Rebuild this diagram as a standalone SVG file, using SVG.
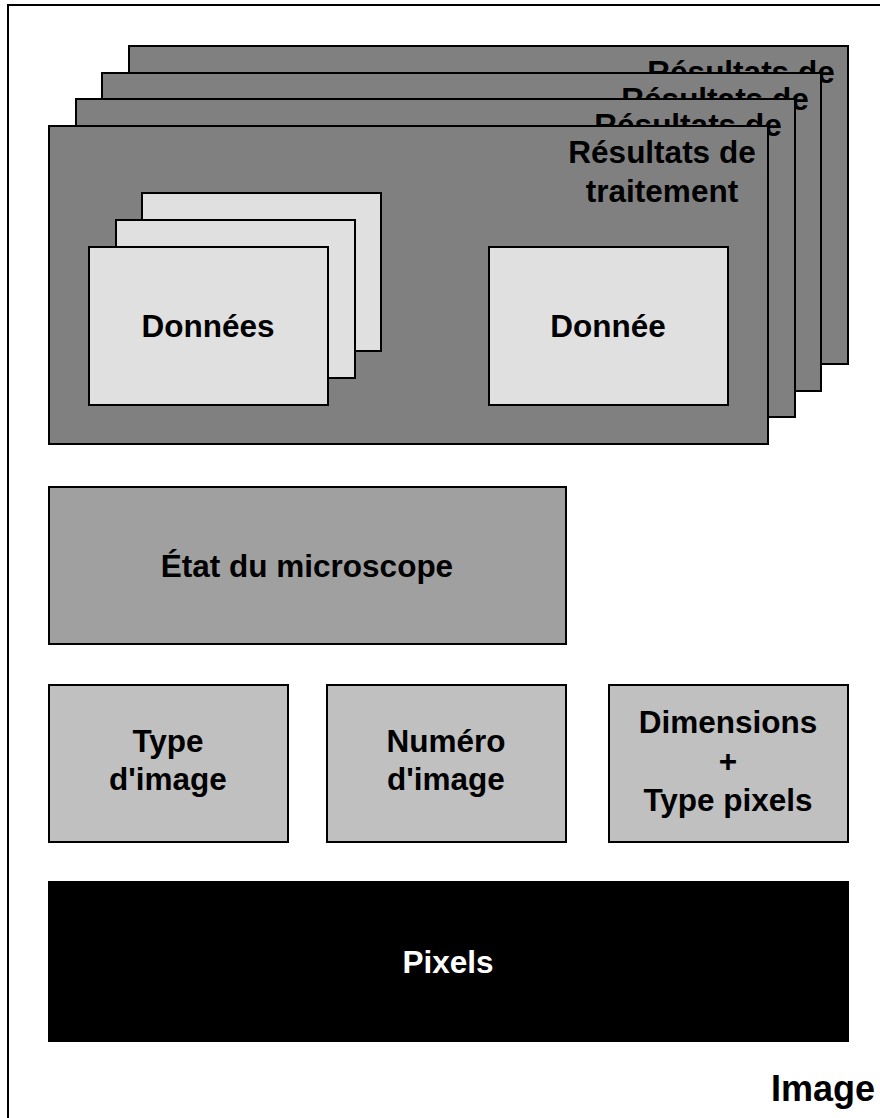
<svg xmlns="http://www.w3.org/2000/svg" width="880" height="1118" viewBox="0 0 880 1118">
<style>
text{font-family:"Liberation Sans",Arial,sans-serif;font-weight:bold;font-size:31.5px;text-anchor:middle;fill:#000}
.panel{fill:#808080;stroke:#000;stroke-width:2}
.data{fill:#e0e0e0;stroke:#000;stroke-width:2}
.state{fill:#a0a0a0;stroke:#000;stroke-width:2}
.meta{fill:#c0c0c0;stroke:#000;stroke-width:2}
.pix{fill:#000;stroke:#000;stroke-width:2}
</style>
<rect id="image" x="8" y="5" width="900" height="1130" fill="#fff" stroke="#000" stroke-width="2"/>
<g id="results3">
<rect class="panel" x="129" y="46" width="719" height="318"/>
<text x="741" y="83">Résultats de</text>
<text x="741" y="122">traitement</text>
</g>
<g id="results2">
<rect class="panel" x="102" y="73" width="719" height="318"/>
<text x="715" y="110">Résultats de</text>
<text x="715" y="149">traitement</text>
</g>
<g id="results1">
<rect class="panel" x="76" y="99" width="719" height="318"/>
<text x="688" y="136">Résultats de</text>
<text x="688" y="175">traitement</text>
</g>
<g id="results0">
<rect class="panel" x="49" y="126" width="719" height="318"/>
<text x="662" y="163">Résultats de</text>
<text x="662" y="202">traitement</text>
</g>
<g id="donnees">
<rect class="data" x="142" y="193" width="239" height="158"/>
<rect class="data" x="116" y="220" width="239" height="158"/>
<rect class="data" x="89" y="247" width="239" height="158"/>
<text x="208" y="337">Données</text>
</g>
<g id="donnee">
<rect class="data" x="489" y="247" width="239" height="158"/>
<text x="608" y="337">Donnée</text>
</g>
<g id="etat">
<rect class="state" x="49" y="487" width="517" height="157"/>
<text x="307" y="577">État du microscope</text>
</g>
<g id="type">
<rect class="meta" x="49" y="685" width="239" height="157"/>
<text x="168" y="752">Type</text>
<text x="168" y="790">d'image</text>
</g>
<g id="numero">
<rect class="meta" x="327" y="685" width="239" height="157"/>
<text x="446" y="752">Numéro</text>
<text x="446" y="790">d'image</text>
</g>
<g id="dimensions">
<rect class="meta" x="609" y="685" width="239" height="157"/>
<text x="728" y="733">Dimensions</text>
<text x="728" y="772">+</text>
<text x="728" y="811">Type pixels</text>
</g>
<g id="pixels">
<rect class="pix" x="49" y="882" width="799" height="159"/>
<text x="448" y="973" style="fill:#fff">Pixels</text>
</g>
<text x="875" y="1101" style="font-size:36px;text-anchor:end">Image</text>
<g id="connectors"></g>
</svg>
